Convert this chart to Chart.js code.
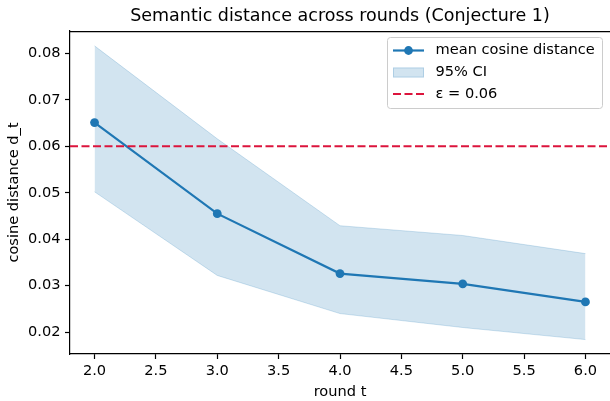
<!DOCTYPE html>
<html>
<head>
<meta charset="utf-8">
<script src="https://cdn.jsdelivr.net/npm/chart.js@4"></script>
<style>
html,body{margin:0;padding:0;background:#fff;}
#wrap{width:610px;height:401px;}
</style>
</head>
<body>
<div id="wrap"><canvas id="c" width="610" height="401"></canvas></div>
<script>
const rounds = [2, 3, 4, 5, 6];
const meanDist = [0.0651, 0.0455, 0.0326, 0.0304, 0.0265];
const ciUpper = [0.0816, 0.0616, 0.0429, 0.0408, 0.0369];
const ciLower = [0.0502, 0.0322, 0.0240, 0.0210, 0.0184];
const epsilon = 0.06;
const xTicks = [2.0, 2.5, 3.0, 3.5, 4.0, 4.5, 5.0, 5.5, 6.0];
const yTicks = [0.02, 0.03, 0.04, 0.05, 0.06, 0.07, 0.08];
const xMin = 1.8, xMax = 6.2, yMin = 0.0153, yMax = 0.0848;

const BLUE = '#1f77b4';
const FILL = 'rgba(31,119,180,0.2)';
const RED = '#dc143c';
const FONT = "'DejaVu Sans', sans-serif";
const FS = 14.6;

const pts = (ys) => rounds.map((x, i) => ({x: x, y: ys[i]}));

const legendPlugin = {
  id: 'mplLegend',
  afterDraw(chart) {
    const ctx = chart.ctx;
    ctx.save();
    const a = chart.chartArea;
    ctx.strokeStyle = '#000';
    ctx.lineWidth = 1.2;
    ctx.beginPath();
    ctx.moveTo(a.left - 0.6, a.top + 0.6);
    ctx.lineTo(a.right + 2, a.top + 0.6);
    ctx.stroke();
    // legend box
    const bx = 387.5, by = 37.5, bw = 215, bh = 71, r = 3;
    ctx.beginPath();
    ctx.moveTo(bx + r, by);
    ctx.lineTo(bx + bw - r, by);
    ctx.quadraticCurveTo(bx + bw, by, bx + bw, by + r);
    ctx.lineTo(bx + bw, by + bh - r);
    ctx.quadraticCurveTo(bx + bw, by + bh, bx + bw - r, by + bh);
    ctx.lineTo(bx + r, by + bh);
    ctx.quadraticCurveTo(bx, by + bh, bx, by + bh - r);
    ctx.lineTo(bx, by + r);
    ctx.quadraticCurveTo(bx, by, bx + r, by);
    ctx.closePath();
    ctx.fillStyle = 'rgba(255,255,255,0.8)';
    ctx.fill();
    ctx.strokeStyle = '#cccccc';
    ctx.lineWidth = 1;
    ctx.stroke();
    const hx0 = 393, hx1 = 424, tx = 435.5;
    const rows = [50.5, 72.5, 94];
    ctx.strokeStyle = BLUE; ctx.lineWidth = 2.2;
    ctx.beginPath(); ctx.moveTo(hx0, rows[0]); ctx.lineTo(hx1, rows[0]); ctx.stroke();
    ctx.fillStyle = BLUE;
    ctx.beginPath(); ctx.arc((hx0 + hx1) / 2, rows[0], 4.4, 0, Math.PI * 2); ctx.fill();
    ctx.fillStyle = FILL;
    ctx.fillRect(hx0, rows[1] - 5, hx1 - hx0, 10);
    ctx.strokeStyle = 'rgba(31,119,180,0.2)'; ctx.lineWidth = 1;
    ctx.strokeRect(hx0 + 0.5, rows[1] - 4.5, hx1 - hx0 - 1, 9);
    ctx.strokeStyle = RED; ctx.lineWidth = 2.2;
    ctx.setLineDash([8, 3.5]);
    ctx.beginPath(); ctx.moveTo(hx0, rows[2]); ctx.lineTo(hx1, rows[2]); ctx.stroke();
    ctx.setLineDash([]);
    ctx.fillStyle = '#000';
    ctx.font = FS + "px " + FONT;
    ctx.textBaseline = 'middle';
    ctx.textAlign = 'left';
    ctx.fillText('mean cosine distance', tx, rows[0]);
    ctx.fillText('95% CI', tx, rows[1]);
    ctx.fillText('\u03b5 = ' + epsilon.toFixed(2), tx, rows[2]);
    ctx.restore();
  }
};

const axisCommon = {
  type: 'linear',
  grid: { display: true, drawOnChartArea: false, drawTicks: true, tickLength: 5, tickColor: '#000', tickWidth: 1.2 },
  border: { display: true, color: '#000', width: 1.2 },
};

new Chart(document.getElementById('c'), {
  type: 'line',
  data: {
    datasets: [
      {
        label: 'eps',
        data: [{x: xMin, y: epsilon}, {x: xMax, y: epsilon}],
        borderColor: RED, borderWidth: 2.2, borderDash: [8, 3.5],
        pointRadius: 0, fill: false
      },
      {
        label: 'mean cosine distance',
        data: pts(meanDist),
        borderColor: BLUE, backgroundColor: BLUE, borderWidth: 2.2,
        pointRadius: 4.4, pointBackgroundColor: BLUE, pointBorderColor: BLUE, pointBorderWidth: 0,
        fill: false, tension: 0
      },
      {
        label: 'upper',
        data: pts(ciUpper),
        borderColor: 'rgba(31,119,180,0.2)', borderWidth: 1, backgroundColor: FILL,
        pointRadius: 0, fill: '+1', tension: 0
      },
      {
        label: 'lower',
        data: pts(ciLower),
        borderColor: 'rgba(31,119,180,0.2)', borderWidth: 1,
        pointRadius: 0, fill: false, tension: 0
      }
    ]
  },
  options: {
    responsive: false,
    animation: false,
    devicePixelRatio: 1,
    clip: false,
    layout: { autoPadding: false, padding: { left: 0, right: -1, top: 0, bottom: 0 } },
    plugins: {
      legend: { display: false },
      tooltip: { enabled: false },
      title: {
        display: true,
        fullSize: false,
        text: 'Semantic distance across rounds (Conjecture 1)',
        color: '#000',
        font: { family: FONT, size: 17.5, weight: 'normal', lineHeight: 1.2 },
        padding: { top: 5.5, bottom: 4.5 }
      }
    },
    scales: {
      x: Object.assign({}, axisCommon, {
        min: xMin, max: xMax,
        afterBuildTicks: (s) => { s.ticks = xTicks.map(v => ({value: v})); },
        afterFit: (s) => { s.height = 47; s.paddingLeft = 0; s.paddingRight = 0; },
        ticks: { color: '#000', font: { family: FONT, size: FS }, padding: 3.5, maxRotation: 0, autoSkip: false,
                 callback: (v) => Number(v).toFixed(1) },
        title: { display: true, text: 'round t', color: '#000', font: { family: FONT, size: FS, lineHeight: 1.2 }, padding: { top: 0, bottom: 0 } }
      }),
      y: Object.assign({}, axisCommon, {
        min: yMin, max: yMax,
        afterBuildTicks: (s) => { s.ticks = yTicks.map(v => ({value: v})); },
        afterFit: (s) => { s.width = 70; s.paddingTop = 0; s.paddingBottom = 0; },
        ticks: { color: '#000', font: { family: FONT, size: FS }, padding: 4.5, autoSkip: false,
                 callback: (v) => Number(v).toFixed(2) },
        title: { display: true, text: 'cosine distance d_t', color: '#000', font: { family: FONT, size: FS, lineHeight: 1.2 }, padding: { top: 5, bottom: 0 } }
      })
    }
  },
  plugins: [legendPlugin]
});
</script>
</body>
</html>
